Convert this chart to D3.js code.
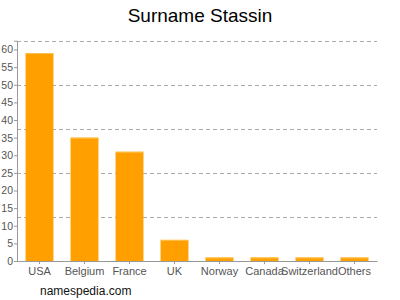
<!DOCTYPE html>
<html lang="en">
<head>
<meta charset="UTF-8">
<title>Surname Stassin</title>
<script src="https://d3js.org/d3.v7.min.js"></script>
<style>
  body { margin: 0; background: #fff; }
  svg { display: block; font-family: "Liberation Sans", Arial, sans-serif; }
</style>
</head>
<body>
<svg width="400" height="300"></svg>
<script>
var countries = ["USA", "Belgium", "France", "UK", "Norway", "Canada", "Switzerland", "Others"];
var counts = [59, 35, 31, 6, 1, 1, 1, 1];
var yTicks = [0, 5, 10, 15, 20, 25, 30, 35, 40, 45, 50, 55, 60];
var gridLines = [12.5, 25, 37.5, 50, 62.5];

var svg = d3.select("svg");
var plotLeft = 17, plotRight = 377, plotTop = 40.7, plotBottom = 261;

var x = d3.scaleBand().domain(countries).range([plotLeft, plotRight]).paddingInner(0.38).paddingOuter(0.19);
var y = d3.scaleLinear().domain([0, 62.5]).range([plotBottom, plotTop]);

svg.append("text")
    .attr("x", 200).attr("y", 22)
    .attr("text-anchor", "middle")
    .style("font-size", "19px")
    .text("Surname Stassin");

// dashed grid
svg.selectAll("line.grid")
    .data(gridLines)
    .enter().append("line")
    .attr("class", "grid")
    .attr("x1", plotLeft).attr("x2", plotRight)
    .attr("y1", d => Math.round(y(d)) + 0.5).attr("y2", d => Math.round(y(d)) + 0.5)
    .style("stroke", "#aaa")
    .style("stroke-dasharray", "4,3");

// bars
svg.selectAll("rect.bar")
    .data(counts)
    .enter().append("rect")
    .attr("class", "bar")
    .attr("x", (d, i) => x(countries[i]))
    .attr("y", d => y(d))
    .attr("width", x.bandwidth())
    .attr("height", d => plotBottom - y(d))
    .style("fill", "#ffa000");

svg.selectAll("line.cap")
    .data(counts)
    .enter().append("line")
    .attr("class", "cap")
    .attr("x1", (d, i) => x(countries[i])).attr("x2", (d, i) => x(countries[i]) + x.bandwidth())
    .attr("y1", d => y(d) + 0.5).attr("y2", d => y(d) + 0.5)
    .style("stroke", "#ffc050");

// y axis
var yAxis = svg.append("g")
    .attr("transform", "translate(" + plotLeft + ",0)")
    .call(d3.axisLeft(y).tickValues(yTicks).tickSize(3).tickPadding(1));
yAxis.select(".domain").style("stroke", "#999");
yAxis.selectAll(".tick line").style("stroke", "#999");
yAxis.selectAll("text").style("fill", "#555").style("font-size", "10.5px");

// x axis
var xAxis = svg.append("g")
    .attr("transform", "translate(0," + plotBottom + ")")
    .call(d3.axisBottom(x).tickSize(3).tickPadding(3).tickSizeOuter(0));
xAxis.select(".domain").style("stroke", "#999");
xAxis.selectAll(".tick line").style("stroke", "#999");
xAxis.selectAll("text").style("fill", "#555").style("font-size", "11px");

svg.append("text")
    .attr("x", 40).attr("y", 295)
    .style("font-size", "12px")
    .style("fill", "#111")
    .text("namespedia.com");
</script>
</body>
</html>
